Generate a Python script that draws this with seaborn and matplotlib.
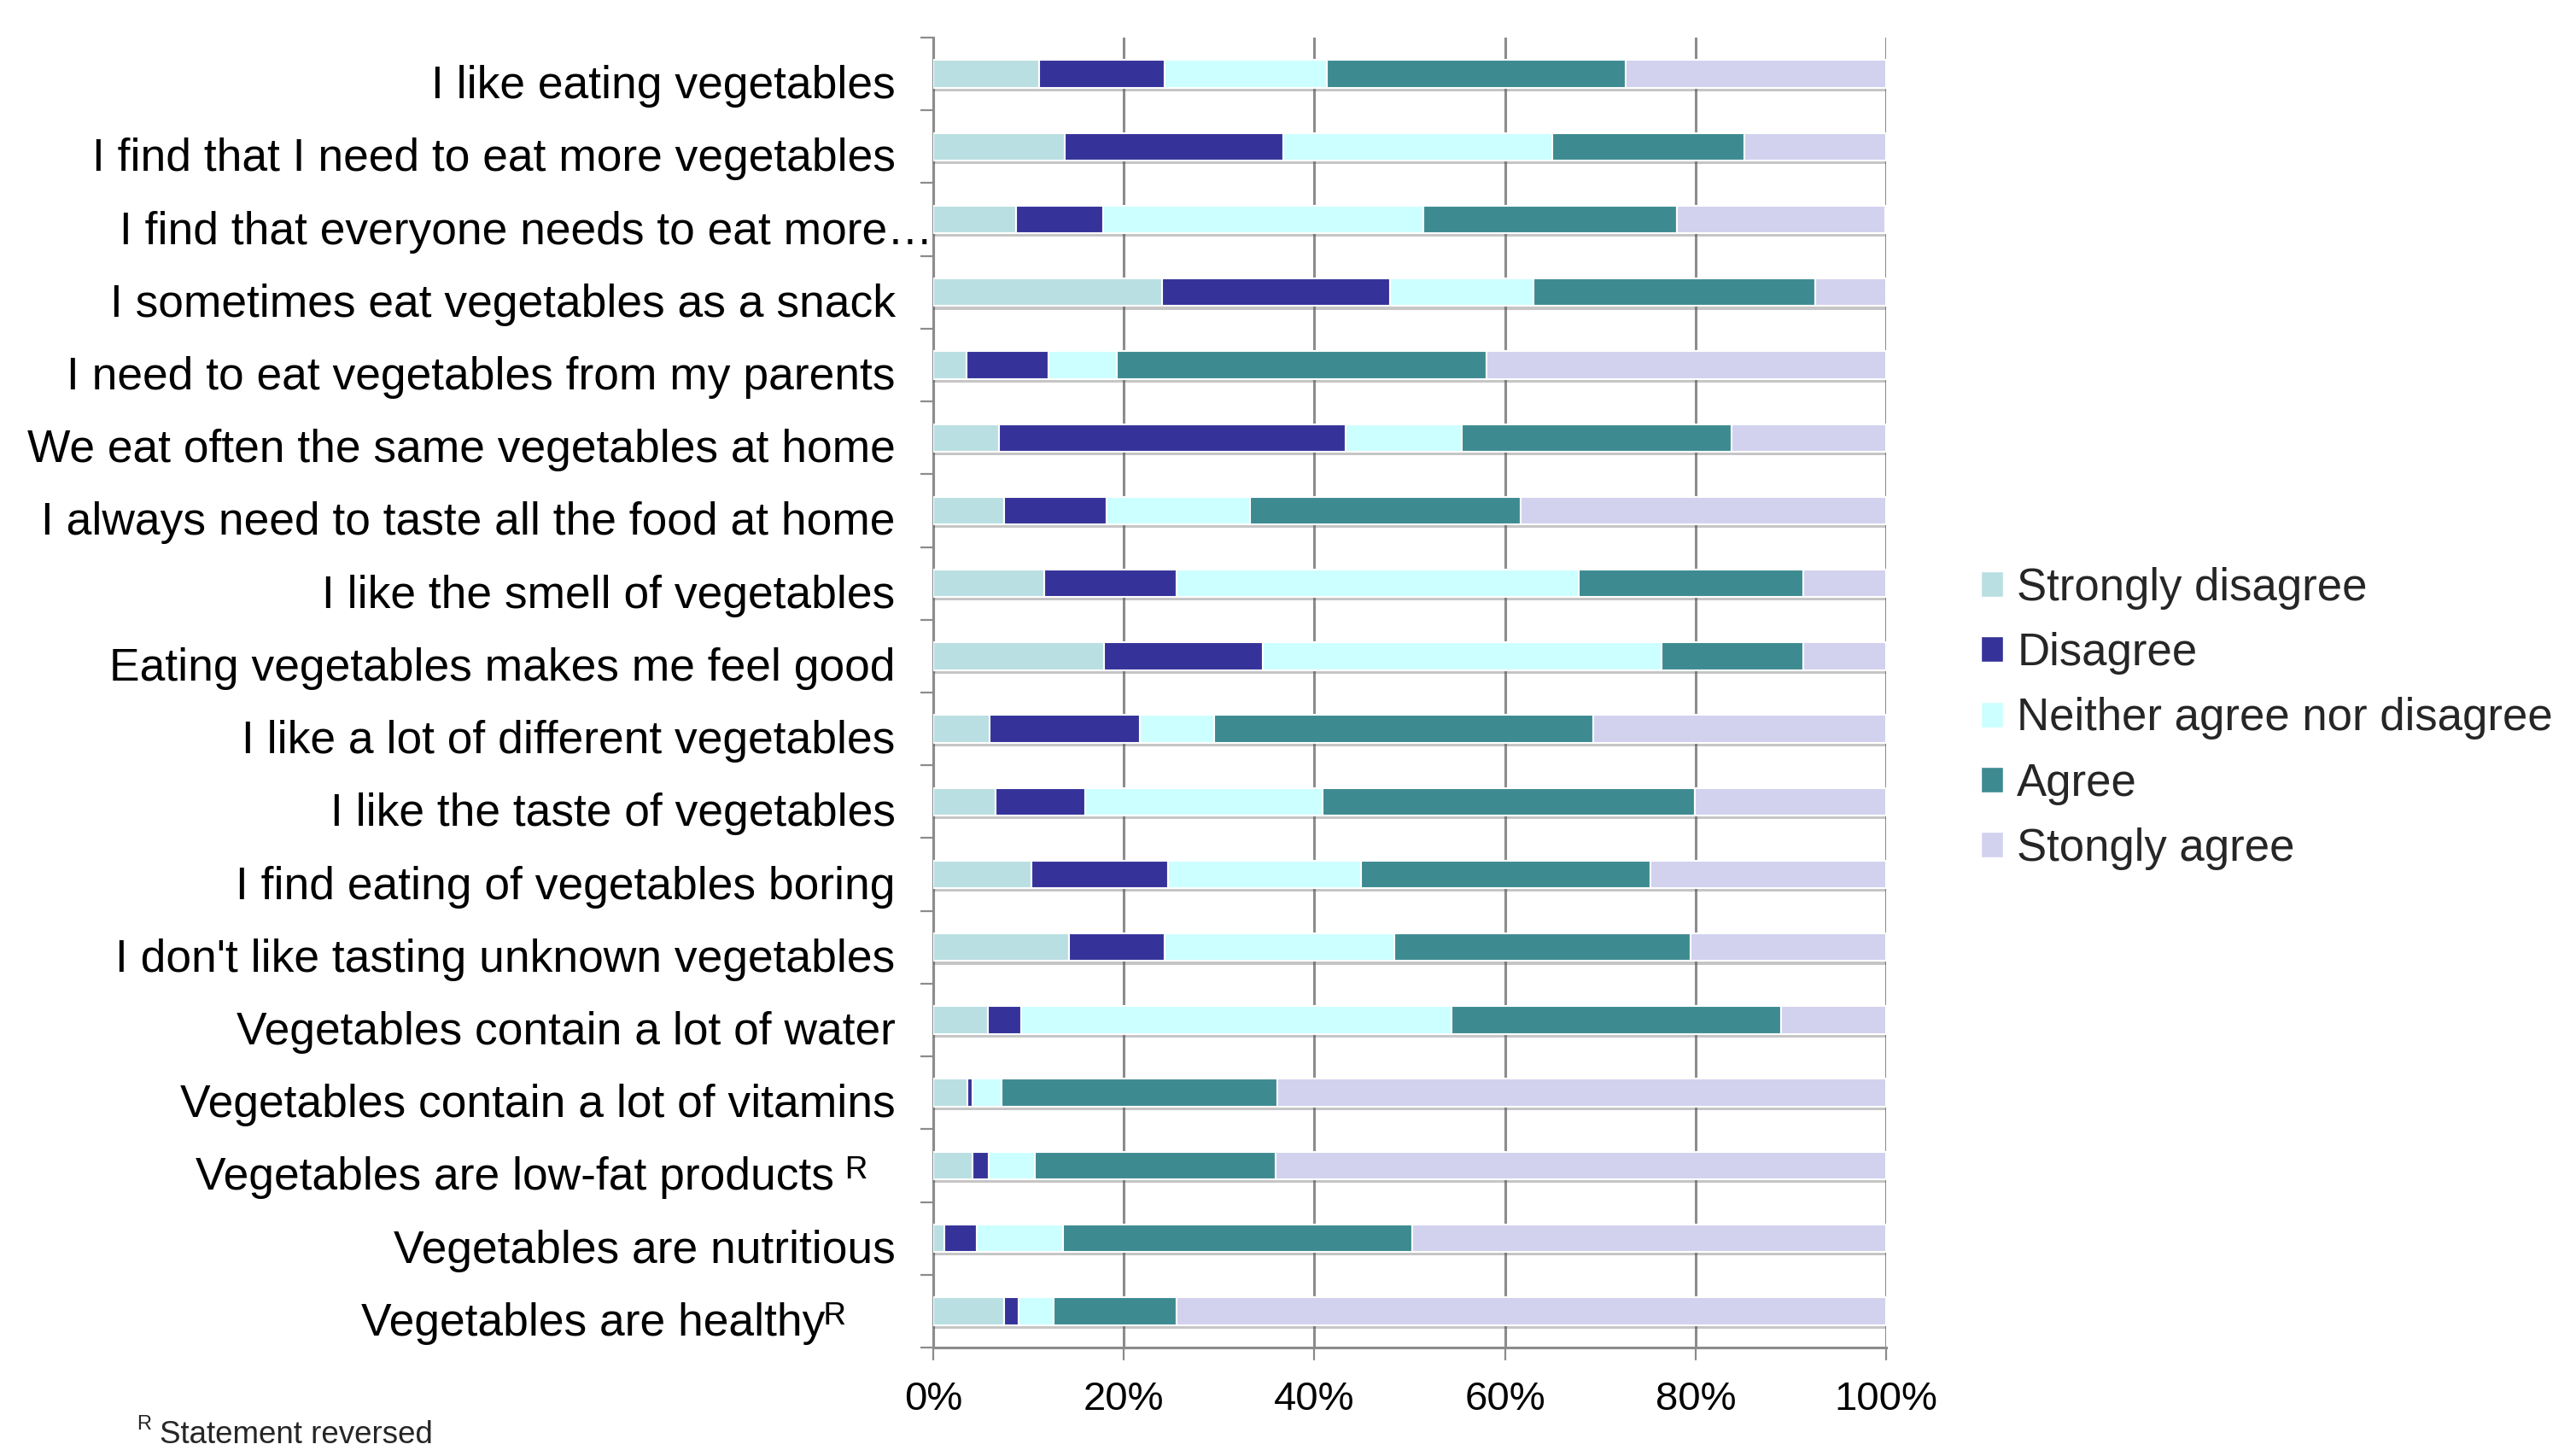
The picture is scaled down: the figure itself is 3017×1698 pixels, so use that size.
import numpy as np
import pandas as pd
import matplotlib
matplotlib.use("Agg")
import matplotlib.pyplot as plt
import matplotlib.patheffects as pe
from matplotlib.patches import Patch
from matplotlib.transforms import ScaledTranslation
import seaborn as sns

# Statements, top to bottom
statements = [
    "I like eating vegetables",
    "I find that I need to eat more vegetables",
    "I find that everyone needs to eat more\u2026",
    "I sometimes eat vegetables as a snack",
    "I need to eat vegetables from my parents",
    "We eat often the same vegetables at home",
    "I always need to taste all the food at home",
    "I like the smell of vegetables",
    "Eating vegetables makes me feel good",
    "I like a lot of different vegetables",
    "I like the taste of vegetables",
    "I find eating of vegetables boring",
    "I don't like tasting unknown vegetables",
    "Vegetables contain a lot of water",
    "Vegetables contain a lot of vitamins",
    "Vegetables are low-fat products \u1d3f",
    "Vegetables are nutritious",
    "Vegetables are healthy\u1d3f",
]

# Share of answers per statement (%)
strongly_disagree = [11.1, 13.8, 8.7, 24.0, 3.5, 6.9, 7.4, 11.6, 17.9, 5.9, 6.5, 10.3, 14.2, 5.7, 3.6, 4.1, 1.2, 7.4]
disagree          = [13.2, 22.9, 9.1, 23.9, 8.6, 36.4, 10.8, 13.9, 16.7, 15.8, 9.4, 14.3, 10.1, 3.5, 0.5, 1.7, 3.4, 1.6]
neither           = [17.0, 28.3, 33.6, 15.1, 7.2, 12.2, 15.0, 42.2, 41.8, 7.8, 25.0, 20.3, 24.1, 45.2, 3.1, 4.9, 9.0, 3.6]
agree             = [31.4, 20.1, 26.6, 29.6, 38.8, 28.3, 28.4, 23.6, 14.9, 39.8, 39.0, 30.4, 31.1, 34.6, 28.9, 25.2, 36.7, 12.9]
strongly_agree    = [27.3, 14.9, 21.9, 7.4, 41.9, 16.2, 38.4, 8.7, 8.7, 30.7, 20.1, 24.7, 20.5, 11.0, 63.9, 64.1, 49.7, 74.5]

levels = ["Strongly disagree", "Disagree", "Neither agree nor disagree", "Agree", "Stongly agree"]
level_colors = ["#B9DFE2", "#353399", "#CCFFFF", "#3D8B91", "#D2D2EF"]

sns.set_theme(style="white")
plt.rcParams["font.family"] = ["Liberation Sans", "DejaVu Sans"]

fig = plt.figure(figsize=(30.17, 16.98), dpi=100)
fig.patch.set_facecolor("white")
ax = fig.add_axes([0.3623, 0.0707, 0.3699, 0.9034])

series = [strongly_disagree, disagree, neither, agree, strongly_agree]
left = np.zeros(len(statements))
shadow = [pe.SimplePatchShadow(offset=(0, -3), shadow_rgbFace="0.35", alpha=0.35), pe.Normal()]

for name, vals, col in zip(levels, series, level_colors):
    df = pd.DataFrame({"statement": statements, "share": vals})
    n_before = len(ax.patches)
    sns.barplot(data=df, y="statement", x="share", order=statements,
                color=col, saturation=1, width=0.38, left=left,
                edgecolor="white", linewidth=1.5, ax=ax, zorder=3)
    for p in ax.patches[n_before:]:
        p.set_path_effects(shadow)
    left = left + np.array(vals)

ax.set_xlim(0, 100)
ax.set_ylim(len(statements) - 0.5, -0.5)
ax.set_xlabel("")
ax.set_ylabel("")

grid_col = "#8C8C8C"
ax.set_xticks([0, 20, 40, 60, 80, 100])
ax.set_xticklabels(["0%", "20%", "40%", "60%", "80%", "100%"])
ax.xaxis.grid(True, color=grid_col, linewidth=2.2, zorder=0)
ax.yaxis.grid(False)
ax.set_axisbelow(True)

for side in ["top", "right"]:
    ax.spines[side].set_visible(False)
for side in ["left", "bottom"]:
    ax.spines[side].set_visible(True)
    ax.spines[side].set_color(grid_col)
    ax.spines[side].set_linewidth(2.2)

ax.tick_params(axis="x", which="major", bottom=True, length=11, width=1.6,
               color=grid_col, labelsize=34, pad=17, labelcolor="black")
ax.set_yticks(np.arange(-0.5, len(statements), 1.0), minor=True)
ax.tick_params(axis="y", which="minor", left=True, length=11, width=1.6, color=grid_col)
ax.tick_params(axis="y", which="major", left=False, length=0, labelsize=38.4,
               pad=32, labelcolor="black")

# Fine placement of the statement labels (in pixels)
shifts = {2: 44, 15: -33, 17: -58}
for i, lbl in enumerate(ax.get_yticklabels()):
    dx = shifts.get(i, 0)
    lbl.set_transform(lbl.get_transform() +
                      ScaledTranslation(dx / 100, -9 / 100, fig.dpi_scale_trans))

handles = [Patch(facecolor=c, edgecolor="white", linewidth=1) for c in level_colors]
fig.legend(handles, levels, loc="center left", bbox_to_anchor=(0.769, 0.5045),
           bbox_transform=fig.transFigure, frameon=False, fontsize=38,
           handlelength=0.5, handleheight=0.5, handletextpad=0.3,
           labelspacing=0.5, borderpad=0, borderaxespad=0)

fig.text(160 / 3017, 1 - 1668 / 1698, "R", fontsize=17, va="center", ha="left")
fig.text(187 / 3017, 1 - 1680 / 1698, "Statement reversed", fontsize=26.5, va="center", ha="left")

fig.savefig("out.png", dpi=100, facecolor="white")
